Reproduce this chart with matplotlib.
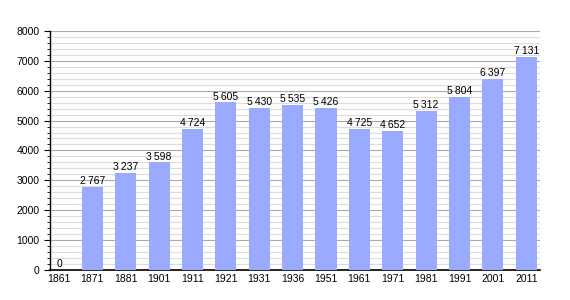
import matplotlib.pyplot as plt
from matplotlib.ticker import MultipleLocator

years = ['1861', '1871', '1881', '1901', '1911', '1921', '1931', '1936',
         '1951', '1961', '1971', '1981', '1991', '2001', '2011']
population = [0, 2767, 3237, 3598, 4724, 5605, 5430, 5535,
              5426, 4725, 4652, 5312, 5804, 6397, 7131]

plt.rcParams['font.family'] = ['Liberation Sans', 'DejaVu Sans']

fig = plt.figure(figsize=(5.7, 3.0), dpi=100)
ax = fig.add_axes([0.0877, 0.1, 0.859, 0.797])

x = list(range(len(years)))
ax.bar(x, population, width=0.63, color='#99aaff', zorder=3)

for xi, v in zip(x, population):
    label = f'{v:,}'.replace(',', '\u2009')
    ax.text(xi, v + 30, label, ha='center', va='bottom', fontsize=7.5, zorder=4)

ax.set_xlim(-0.27, 14.4)
ax.set_ylim(0, 8000)
ax.set_xticks(x)
ax.set_xticklabels(years)
ax.yaxis.set_major_locator(MultipleLocator(1000))
ax.yaxis.set_minor_locator(MultipleLocator(200))
ax.grid(which='major', axis='y', color='#aaaaaa', linewidth=0.8, zorder=0)
ax.grid(which='minor', axis='y', color='#dddddd', linewidth=0.8, zorder=0)

for s in ['top', 'right']:
    ax.spines[s].set_visible(False)
ax.spines['left'].set_linewidth(1.0)
ax.spines['bottom'].set_linewidth(1.2)
ax.tick_params(axis='x', length=0, labelsize=7.5, pad=3)
ax.tick_params(axis='y', which='major', length=4, labelsize=7.5)
ax.tick_params(axis='y', which='minor', length=2)

fig.savefig('out.png', dpi=100)
